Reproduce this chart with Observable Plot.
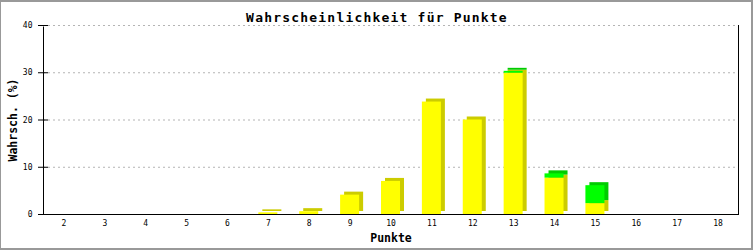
<!DOCTYPE html>
<html>
<head>
<meta charset="utf-8">
<script src="https://cdn.jsdelivr.net/npm/d3@7"></script>
<script src="https://cdn.jsdelivr.net/npm/@observablehq/plot@0.6"></script>
<style>
  body { margin: 0; background: white; }
  #wrap { position: relative; width: 753px; height: 250px; }
  #border { position: absolute; left: 0; top: 0; width: 753px; height: 250px; box-sizing: border-box;
            border-style: solid; border-color: #999; border-width: 2px 2px 2px 1px; pointer-events: none; }
</style>
</head>
<body>
<div id="wrap"><div id="border"></div></div>
<script>
// Data
const categories = [2, 3, 4, 5, 6, 7, 8, 9, 10, 11, 12, 13, 14, 15, 16, 17, 18];
const barPoints = [7, 8, 9, 10, 11, 12, 13, 14, 15];
const yellowValues = [0.35, 0.6, 4.1, 7.0, 23.8, 20.0, 29.9, 7.7, 2.3];
const greenValues = [0, 0, 0, 0, 0, 0, 0.4, 0.9, 3.8];
const yTicks = [0, 10, 20, 30, 40];
const title = "Wahrscheinlichkeit für Punkte";
const xTitle = "Punkte";
const yTitle = "Wahrsch. (%)";

const rows = [];
barPoints.forEach((p, i) => {
  rows.push({point: p, value: yellowValues[i], color: "#ffff00", shade: "#cccc00"});
  rows.push({point: p, value: greenValues[i], color: "#00ff00", shade: "#00cc00"});
});

const font = "'DejaVu Sans Mono', monospace";

const chart = Plot.plot({
  width: 753,
  height: 250,
  marginLeft: 43,
  marginRight: 15,
  marginTop: 25,
  marginBottom: 36,
  style: {fontFamily: font, fontSize: "8px", background: "transparent", color: "black"},
  x: {type: "band", domain: categories, paddingInner: 0.535, paddingOuter: 0.2675, round: false, label: null},
  y: {domain: [0, 40], label: null},
  color: {type: "identity"},
  marks: [
    Plot.gridY([10, 20, 30], {stroke: "#b4b4b4", strokeOpacity: 1, strokeDasharray: "2,3"}),
    Plot.barY(rows, {x: "point", y: "value", fill: "shade", dx: 4, dy: -3}),
    Plot.barY(rows, {x: "point", y: "value", fill: "color"}),
    Plot.frame({stroke: "black"}),
    Plot.ruleY([40], {stroke: "white", strokeWidth: 2}),
    Plot.gridY([40], {stroke: "#b4b4b4", strokeOpacity: 1, strokeDasharray: "2,3"}),
    Plot.axisY({ticks: yTicks, tickSize: 10, dx: 5, tickPadding: 6, label: null, fontSize: 8}),
    Plot.axisX({tickSize: 0, tickPadding: 6, label: null, fontSize: 8}),
    Plot.text([title], {frameAnchor: "top", dx: -14, dy: -13, fontSize: 13, fontWeight: "bold", textAnchor: "middle"}),
    Plot.text([xTitle], {frameAnchor: "bottom", dy: 27, fontSize: 11.5, fontWeight: "bold", textAnchor: "middle"}),
    Plot.text([yTitle], {frameAnchor: "left", dx: -30, rotate: -90, fontSize: 11.5, fontWeight: "bold", textAnchor: "middle"})
  ]
});
chart.style.display = "block";
d3.select(chart).selectAll("text").filter(function() { return this.textContent === title; })
  .style("letter-spacing", "1.2px");
document.getElementById("wrap").prepend(chart);
</script>
</body>
</html>
